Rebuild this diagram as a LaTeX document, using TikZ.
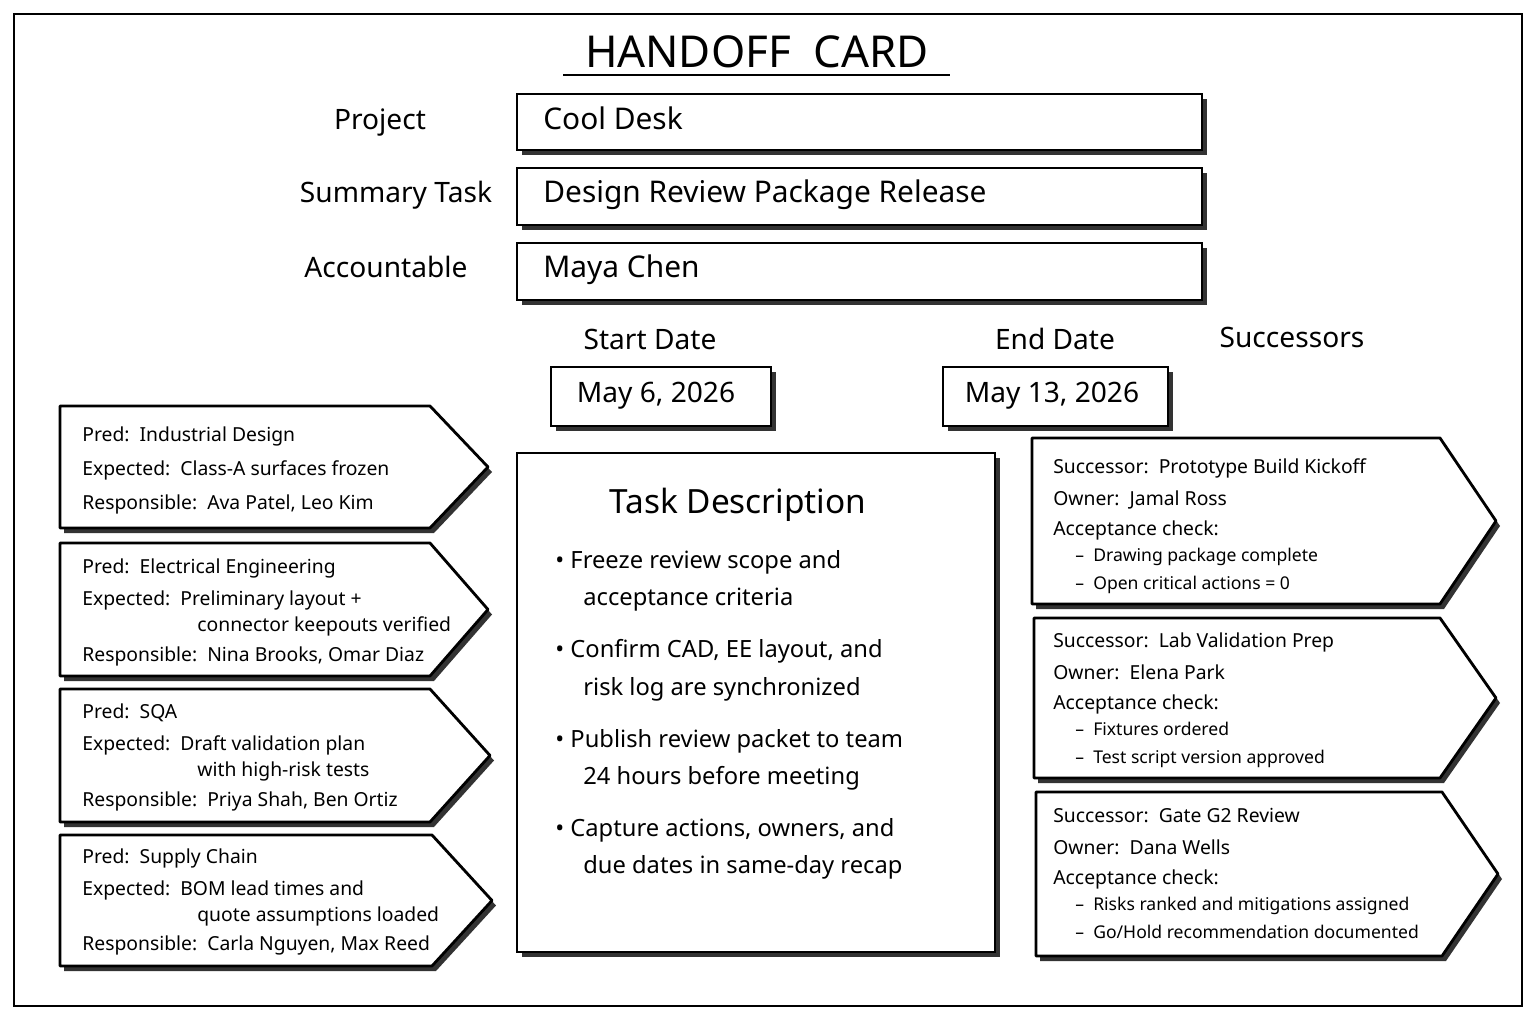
\documentclass[tikz,border=0pt]{standalone}
\usepackage{fontspec}
\setmainfont{Noto Sans}
\usetikzlibrary{positioning}
\tikzset{
  card/.style={draw=black, line width=1.6pt, fill=white},
  shade/.style={fill=black!80, draw=none},
  even/.style={text height=1.6ex, text depth=.45ex},
  txt/.style={even, anchor=west, inner sep=0pt, font=\fontsize{11}{13}\selectfont},
  sml/.style={even, anchor=west, inner sep=0pt, font=\fontsize{10}{12}\selectfont},
  lbl/.style={even, inner sep=0pt, font=\fontsize{16}{19}\selectfont},
  big/.style={even, anchor=west, inner sep=0pt, font=\fontsize{17}{20}\selectfont},
  bul/.style={even, anchor=west, inner sep=0pt, font=\fontsize{13.5}{16}\selectfont},
}
% box with a dark offset shadow
\newcommand{\shbox}[4]{%
  \fill[shade] (#1+5,#2+5) rectangle (#3+5,#4+5);
  \draw[card] (#1,#2) rectangle (#3,#4);}
% arrow shaped card: left, top, body right, bottom, tip x
\newcommand{\tagcard}[5]{%
  \fill[shade] (#1+4,#2+5) -- (#3+4,#2+5) -- (#5+4,{(#2+#4)/2+5}) -- (#3+4,#4+5) -- (#1+4,#4+5) -- cycle;
  \draw[card, line join=round] (#1,#2) -- (#3,#2) -- (#5,{(#2+#4)/2}) -- (#3,#4) -- (#1,#4) -- cycle;}
\begin{document}
\begin{tikzpicture}[x=0.02cm, y=-0.02cm]
\useasboundingbox (0,0) rectangle (1536,1024);
\fill[white] (0,0) rectangle (1536,1024);
\draw[line width=1.6pt] (14,14) rectangle (1522,1006);

% header
\node[inner sep=0pt, font=\fontsize{25}{30}\selectfont] (title) at (757,52) {HANDOFF\ \ CARD};
\draw[line width=1.6pt] (563,75) -- (950,75);

\node[lbl] (project) at (380,124) {Project};
\node[lbl] (summary) at (396,197) {Summary Task};
\node[lbl] (account) at (386,272) {Accountable};
\shbox{517}{94}{1202}{150}
\shbox{517}{168}{1202}{225}
\shbox{517}{243}{1202}{300}
\node[big] (projv) at (543,124) {Cool Desk};
\node[big] (sumv) at (543,197) {Design Review Package Release};
\node[big] (accv) at (543,272) {Maya Chen};

% dates
\node[lbl] (startl) at (650,344) {Start Date};
\node[lbl] (endl) at (1055,344) {End Date};
\node[lbl] (succl) at (1292,342) {Successors};
\shbox{551}{367}{771}{426}
\shbox{943}{367}{1168}{426}
\node[lbl] (startv) at (656,397) {May 6, 2026};
\node[lbl] (endv) at (1052,397) {May 13, 2026};

% task description
\shbox{517}{453}{995}{952}
\node[inner sep=0pt, font=\fontsize{19}{22}\selectfont] (tdesc) at (738,505) {Task Description};
\foreach \ya/\yb/\la/\lb [count=\i] in {
  563/600/Freeze review scope and/acceptance criteria,
  652/690/{Confirm CAD, EE layout, and}/risk log are synchronized,
  742/779/Publish review packet to team/24 hours before meeting,
  831/868/{Capture actions, owners, and}/due dates in same-day recap}{
  \node[bul] (b\i) at (555,\ya) {•\ \la};
  \node[bul] (c\i) at (583,\yb) {\lb};
}

% predecessors
\tagcard{60}{406}{430}{528}{488}
\tagcard{60}{543}{430}{676}{488}
\tagcard{60}{689}{430}{822}{490}
\tagcard{60}{835}{432}{966}{492}
\node[txt] (p1a) at (82,436) {Pred:\ \ Industrial Design};
\node[txt] (p1b) at (82,470) {Expected:\ \ Class-A surfaces frozen};
\node[txt] (p1c) at (82,504) {Responsible:\ \ Ava Patel, Leo Kim};
\node[txt] (p2a) at (82,568) {Pred:\ \ Electrical Engineering};
\node[txt] (p2b) at (82,600) {Expected:\ \ Preliminary layout +};
\node[txt] (p2d) at (197,626) {connector keepouts verified};
\node[txt] (p2c) at (82,656) {Responsible:\ \ Nina Brooks, Omar Diaz};
\node[txt] (p3a) at (82,713) {Pred:\ \ SQA};
\node[txt] (p3b) at (82,745) {Expected:\ \ Draft validation plan};
\node[txt] (p3d) at (197,771) {with high-risk tests};
\node[txt] (p3c) at (82,801) {Responsible:\ \ Priya Shah, Ben Ortiz};
\node[txt] (p4a) at (82,858) {Pred:\ \ Supply Chain};
\node[txt] (p4b) at (82,890) {Expected:\ \ BOM lead times and};
\node[txt] (p4d) at (197,916) {quote assumptions loaded};
\node[txt] (p4c) at (82,945) {Responsible:\ \ Carla Nguyen, Max Reed};

% successors
\tagcard{1032}{438}{1440}{604}{1496}
\tagcard{1034}{618}{1440}{778}{1496}
\tagcard{1036}{792}{1442}{956}{1498}
\foreach \y/\na/\nb/\da/\db [count=\i] in {
  468/Prototype Build Kickoff/Jamal Ross/Drawing package complete/{Open critical actions = 0},
  642/Lab Validation Prep/Elena Park/Fixtures ordered/Test script version approved,
  817/Gate G2 Review/Dana Wells/Risks ranked and mitigations assigned/{Go/Hold recommendation documented}}{
  \node[txt] (s\i a) at (1053,\y) {Successor:\ \ \na};
  \node[txt] (s\i b) at (1053,\y+32) {Owner:\ \ \nb};
  \node[txt] (s\i c) at (1053,\y+62) {Acceptance check:};
  \node[sml] (s\i d) at (1075,\y+88) {–\ \ \da};
  \node[sml] (s\i e) at (1075,\y+116) {–\ \ \db};
}
\end{tikzpicture}
\end{document}
